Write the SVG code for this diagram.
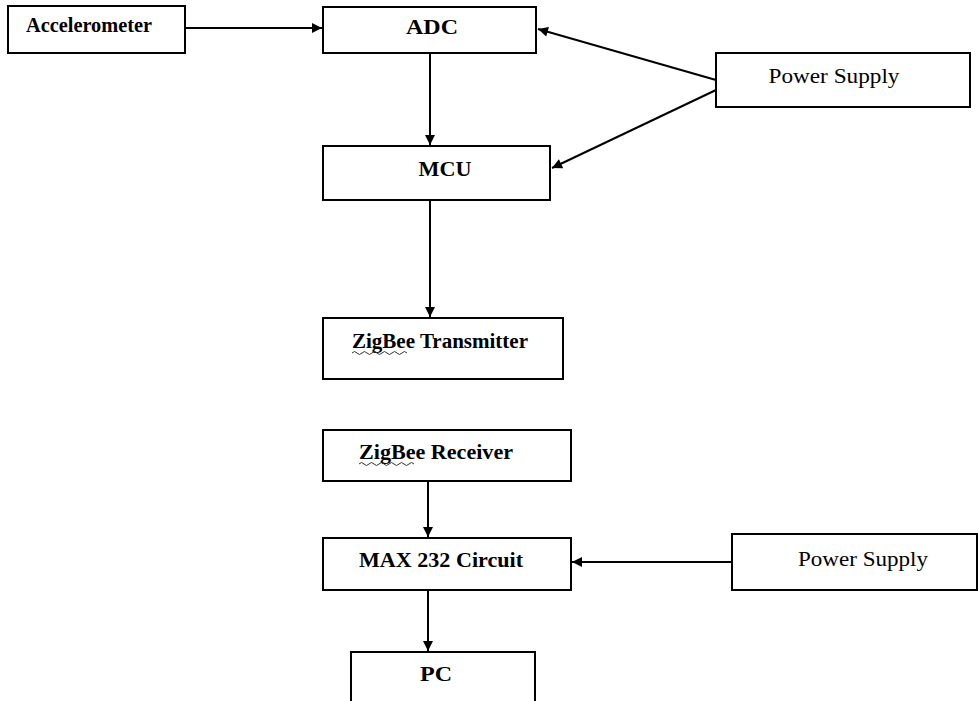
<svg xmlns="http://www.w3.org/2000/svg" width="978" height="701" viewBox="0 0 978 701">
<style>
.box{fill:#fff;stroke:#000;stroke-width:2}
.t{font-family:"Liberation Serif","Times New Roman",serif;font-size:20px;font-weight:bold;fill:#000;text-anchor:middle}
.r{font-weight:normal}
.c{fill:none;stroke:#000;stroke-width:2}
.w{fill:none;stroke:#333;stroke-width:1}
</style>
<defs>
<marker id="ah" viewBox="0 0 10 10" refX="10" refY="5" markerWidth="5.5" markerHeight="5" orient="auto" markerUnits="strokeWidth">
<path d="M0,0 L10,5 L0,10 z" fill="#000"/>
</marker>
</defs>
<rect width="978" height="701" fill="#fff"/>
<g id="connectors">
<line class="c" x1="185" y1="28" x2="322" y2="28" marker-end="url(#ah)"/>
<line class="c" x1="716" y1="80" x2="538" y2="29" marker-end="url(#ah)"/>
<line class="c" x1="716" y1="90" x2="552" y2="168" marker-end="url(#ah)"/>
<line class="c" x1="430" y1="53" x2="430" y2="145" marker-end="url(#ah)"/>
<line class="c" x1="430" y1="200" x2="430" y2="317" marker-end="url(#ah)"/>
<line class="c" x1="428" y1="481" x2="428" y2="537" marker-end="url(#ah)"/>
<line class="c" x1="428" y1="590" x2="428" y2="651" marker-end="url(#ah)"/>
<line class="c" x1="732" y1="562" x2="572" y2="562" marker-end="url(#ah)"/>
</g>
<g id="accelerometer">
<rect class="box" x="8" y="6" width="177" height="47"/>
<text class="t" x="89" y="32" textLength="126" lengthAdjust="spacingAndGlyphs">Accelerometer</text>
</g>
<g id="adc">
<rect class="box" x="323" y="7" width="213" height="46"/>
<text class="t" x="432" y="34" textLength="52" lengthAdjust="spacingAndGlyphs">ADC</text>
</g>
<g id="power1">
<rect class="box" x="716" y="53" width="254" height="54"/>
<text class="t r" x="834" y="83" textLength="131" lengthAdjust="spacingAndGlyphs">Power Supply</text>
</g>
<g id="mcu">
<rect class="box" x="323" y="146" width="227" height="54"/>
<text class="t" x="445" y="176" textLength="53" lengthAdjust="spacingAndGlyphs">MCU</text>
</g>
<g id="zbtx">
<rect class="box" x="323" y="318" width="240" height="61"/>
<text class="t" x="440" y="348" textLength="176" lengthAdjust="spacingAndGlyphs">ZigBee  Transmitter</text>
<path class="w" d="M352,353 q2.5,-3 5,0 t5,0 t5,0 t5,0 t5,0 t5,0 t5,0 t5,0 t5,0 t5,0 t5,0"/>
</g>
<g id="zbrx">
<rect class="box" x="323" y="430" width="248" height="51"/>
<text class="t" x="436" y="459" textLength="154" lengthAdjust="spacingAndGlyphs">ZigBee  Receiver</text>
<path class="w" d="M359,464 q2.5,-3 5,0 t5,0 t5,0 t5,0 t5,0 t5,0 t5,0 t5,0 t5,0 t5,0 t5,0"/>
</g>
<g id="max232">
<rect class="box" x="323" y="538" width="248" height="52"/>
<text class="t" x="441" y="567" textLength="164" lengthAdjust="spacingAndGlyphs">MAX 232 Circuit</text>
</g>
<g id="power2">
<rect class="box" x="732" y="534" width="245" height="56"/>
<text class="t r" x="863" y="566" textLength="130" lengthAdjust="spacingAndGlyphs">Power Supply</text>
</g>
<g id="pc">
<path class="box" d="M351,702 V652 H535 V702"/>
<text class="t" x="436" y="681" textLength="32" lengthAdjust="spacingAndGlyphs">PC</text>
</g>
</svg>
